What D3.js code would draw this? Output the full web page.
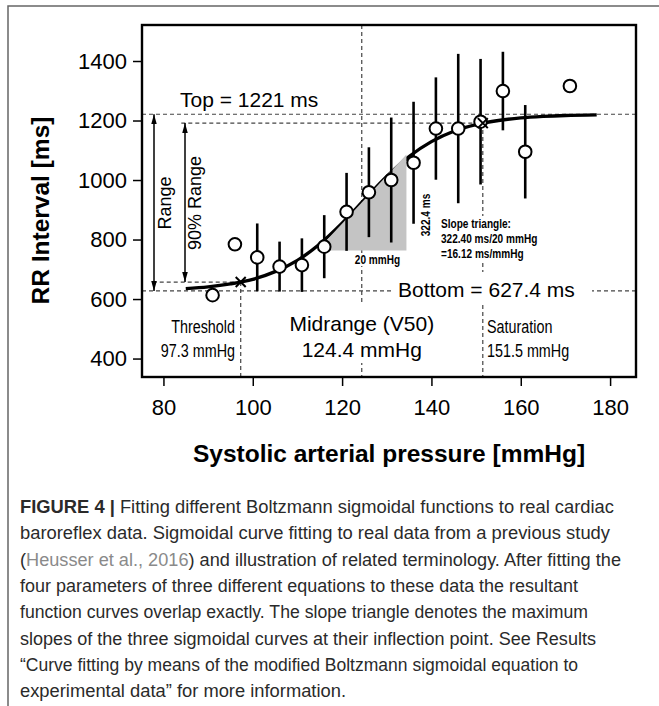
<!DOCTYPE html>
<html>
<head>
<meta charset="utf-8">
<script src="https://cdn.jsdelivr.net/npm/d3@7"></script>
<style>
  body { margin: 0; background: #fff; }
  svg { display: block; }
</style>
</head>
<body>
<svg id="chart"></svg>
<script>
// Baroreflex sigmoid figure

// Binned data: systolic pressure (mmHg), mean RR interval and SD (ms)
const pressure = [91, 96, 101, 106, 111, 116, 121, 126, 131, 136, 141, 146, 151, 156, 161, 171];
const rrMean = [613, 784, 740, 709, 714, 776, 893, 959, 1000, 1058, 1173, 1173, 1196, 1299, 1095, 1316];
const rrSD = [null, null, 114, 84, 90, 106, 131, 151, 210, 205, 172, 251, 211, 132, 157, null];

// Fitted sigmoid
const fitX = [85, 90, 95, 100, 105, 110, 115, 120, 125, 130, 135, 140, 145, 150, 155, 160, 165, 170, 177];
const fitY = [635, 641, 651, 666, 692, 730, 785, 855, 934, 1012, 1079, 1129, 1164, 1186, 1200, 1209, 1214, 1217, 1219];

// Fit parameters shown in the figure
const topRR = 1221, bottomRR = 627.4;
const upper90 = 1191.3, lower90 = 657.1;
const threshold = 97.3, v50 = 124.4, saturation = 151.5;

// Slope triangle corners
const triX = [114.4, 134.4, 134.4];
const triY = [763, 763, 1085.4];

const xTicks = [80, 100, 120, 140, 160, 180];
const yTicks = [400, 600, 800, 1000, 1200, 1400];

const captionLines = [
  [["FIGURE 4 |", "b"], [" Fitting different Boltzmann sigmoidal functions to real cardiac", ""]],
  [["baroreflex data. Sigmoidal curve fitting to real data from a previous study", ""]],
  [["(", ""], ["Heusser et al., 2016", "link"], [") and illustration of related terminology. After fitting the", ""]],
  [["four parameters of three different equations to these data the resultant", ""]],
  [["function curves overlap exactly. The slope triangle denotes the maximum", ""]],
  [["slopes of the three sigmoidal curves at their inflection point. See Results", ""]],
  [["\u201cCurve fitting by means of the modified Boltzmann sigmoidal equation to", ""]],
  [["experimental data\u201d for more information.", ""]]
];
const captionWidths = [594, 590, 601, 558, 568, 576, 558, 326];

const sans = '"Liberation Sans", Arial, Helvetica, sans-serif';

const width = 659, height = 706;
const box = {left: 142, right: 636, top: 25, bottom: 377};

const svg = d3.select('#chart')
  .attr("width", width)
  .attr("height", height);

const x = d3.scaleLinear().domain([75.2, 185.8]).range([box.left, box.right]);
const y = d3.scaleLinear().domain([338, 1521]).range([box.bottom, box.top]);

// Outer figure frame (top and left edges only)
svg.append("path")
  .attr("d", `M8,${height} V6 H${width}`)
  .attr("fill", "none")
  .attr("stroke", "#666")
  .attr("stroke-width", 1.5);

// Arrow heads
const defs = svg.append("defs");
defs.append("marker")
  .attr("id", "arrow")
  .attr("viewBox", "0 0 10 10")
  .attr("refX", 10).attr("refY", 5)
  .attr("markerWidth", 10).attr("markerHeight", 10)
  .attr("markerUnits", "userSpaceOnUse")
  .attr("orient", "auto-start-reverse")
  .append("path")
  .attr("d", "M0,2.2 L10,5 L0,7.8 Z")
  .attr("fill", "#000");

function dashed(x1, y1, x2, y2) {
  svg.append("line")
    .attr("x1", x1).attr("y1", y1).attr("x2", x2).attr("y2", y2)
    .attr("stroke", "#444")
    .attr("stroke-width", 1.2)
    .attr("stroke-dasharray", "4,3");
}

// Reference lines
dashed(box.left, y(topRR), box.right, y(topRR));
dashed(box.left, y(bottomRR), box.right, y(bottomRR));
dashed(x(84), y(upper90), x(saturation), y(upper90));
dashed(x(77.6), y(lower90), x(threshold), y(lower90));
dashed(x(v50), box.top, x(v50), box.bottom);
dashed(x(threshold), y(lower90), x(threshold), box.bottom);
dashed(x(saturation), y(upper90), x(saturation), box.bottom);

// White boxes behind labels that sit on the lines
const whiteBoxes = [
  [394, 272, 198, 31],
  [283, 303, 158, 60],
  [354, 253, 47, 13],
  [438, 216, 102, 47]
];
svg.selectAll("rect.bg")
  .data(whiteBoxes)
  .join("rect")
  .attr("class", "bg")
  .attr("x", d => d[0]).attr("y", d => d[1])
  .attr("width", d => d[2]).attr("height", d => d[3])
  .attr("fill", "#fff");

// Fitted curve
const line = d3.line()
  .x((d, i) => x(fitX[i]))
  .y(d => y(d))
  .curve(d3.curveCatmullRom);
svg.append("path")
  .attr("d", line(fitY))
  .attr("fill", "none")
  .attr("stroke", "#000")
  .attr("stroke-width", 3.4);

// Slope triangle
svg.append("polygon")
  .attr("points", triX.map((d, i) => `${x(d)},${y(triY[i])}`).join(" "))
  .attr("fill", "#c4c4c4");

// Error bars
const points = pressure.map((p, i) => ({p: p, m: rrMean[i], sd: rrSD[i]}));
svg.selectAll("line.err")
  .data(points.filter(d => d.sd !== null))
  .join("line")
  .attr("class", "err")
  .attr("x1", d => x(d.p)).attr("x2", d => x(d.p))
  .attr("y1", d => y(d.m - d.sd)).attr("y2", d => y(d.m + d.sd))
  .attr("stroke", "#000")
  .attr("stroke-width", 2.6);

// Means
svg.selectAll("circle.pt")
  .data(points)
  .join("circle")
  .attr("class", "pt")
  .attr("cx", d => x(d.p)).attr("cy", d => y(d.m))
  .attr("r", 6.3)
  .attr("fill", "#fff")
  .attr("stroke", "#000")
  .attr("stroke-width", 2);

// Threshold and saturation crosses
const crosses = [[threshold, lower90], [saturation, upper90]];
svg.selectAll("path.cross")
  .data(crosses)
  .join("path")
  .attr("class", "cross")
  .attr("d", d => {
    const cx = x(d[0]), cy = y(d[1]), s = 5;
    return `M${cx - s},${cy - s}L${cx + s},${cy + s}M${cx - s},${cy + s}L${cx + s},${cy - s}`;
  })
  .attr("stroke", "#000")
  .attr("stroke-width", 2);

// Range arrows
svg.append("line")
  .attr("x1", 154).attr("x2", 154)
  .attr("y1", y(topRR)).attr("y2", y(bottomRR))
  .attr("stroke", "#000").attr("stroke-width", 1.5)
  .attr("marker-start", "url(#arrow)").attr("marker-end", "url(#arrow)");
svg.append("line")
  .attr("x1", 185).attr("x2", 185)
  .attr("y1", y(upper90)).attr("y2", y(lower90))
  .attr("stroke", "#000").attr("stroke-width", 1.5)
  .attr("marker-start", "url(#arrow)").attr("marker-end", "url(#arrow)");

// Text helper; "squeeze" narrows the glyphs like a condensed face
function label(txt, px, py, opts) {
  let tf = `translate(${px},${py})`;
  if (opts.rotate) tf += " rotate(-90)";
  if (opts.squeeze) tf += ` scale(${opts.squeeze},1)`;
  return svg.append("text")
    .attr("transform", tf)
    .attr("font-family", sans)
    .attr("font-size", opts.size)
    .attr("font-weight", opts.weight || "normal")
    .attr("text-anchor", opts.anchor || "start")
    .attr("fill", "#000")
    .text(txt);
}

const nar = 0.82;
label("Top = 1221 ms", 180, 107, {size: 21});
label("Bottom = 627.4 ms", 398, 296.5, {size: 21});
label("Midrange (V50)", x(v50), 331, {size: 21, anchor: "middle"});
label("124.4 mmHg", x(v50), 356.5, {size: 21, anchor: "middle"});
label("Threshold", 235, 333, {size: 17.5, squeeze: nar, anchor: "end"});
label("97.3 mmHg", 235, 356.5, {size: 17.5, squeeze: nar, anchor: "end"});
label("Saturation", 487, 333, {size: 17.5, squeeze: nar});
label("151.5 mmHg", 487, 356.5, {size: 17.5, squeeze: nar});
label("Range", 171, 203, {size: 18, anchor: "middle", rotate: true});
label("90% Range", 201, 203, {size: 18, anchor: "middle", rotate: true});
label("Slope triangle:", 441, 228, {size: 12.3, squeeze: nar, weight: "bold"});
label("322.40 ms/20 mmHg", 441, 243, {size: 12.3, squeeze: nar, weight: "bold"});
label("=16.12 ms/mmHg", 441, 258, {size: 12.3, squeeze: nar, weight: "bold"});
label("20 mmHg", 377.5, 264, {size: 12.3, squeeze: nar, weight: "bold", anchor: "middle"});
label("322.4 ms", 429.5, 215, {size: 12.3, squeeze: nar, weight: "bold", anchor: "middle", rotate: true});

// Plot frame
svg.append("rect")
  .attr("x", box.left).attr("y", box.top)
  .attr("width", box.right - box.left).attr("height", box.bottom - box.top)
  .attr("fill", "none")
  .attr("stroke", "#000")
  .attr("stroke-width", 2.4);

// Axes
const yAxis = svg.append("g")
  .attr("transform", `translate(${box.left},0)`)
  .call(d3.axisLeft(y).tickValues(yTicks).tickFormat(d3.format("d")).tickSize(9).tickPadding(6));
const xAxis = svg.append("g")
  .attr("transform", `translate(0,${box.bottom})`)
  .call(d3.axisBottom(x).tickValues(xTicks).tickFormat(d3.format("d")).tickSize(9).tickPadding(13));
[xAxis, yAxis].forEach(g => {
  g.select(".domain").remove();
  g.selectAll("line").attr("stroke", "#000").attr("stroke-width", 1.5);
  g.selectAll("text")
    .attr("fill", "#000")
    .style("font-family", sans)
    .style("font-size", "22px");
});

// Axis titles
label("RR Interval [ms]", 49, 210.5, {size: 24.5, weight: "bold", anchor: "middle", rotate: true});
label("Systolic arterial pressure [mmHg]", 389, 462, {size: 24.5, weight: "bold", anchor: "middle"});

// Caption
captionLines.forEach((parts, i) => {
  const t = svg.append("text")
    .attr("x", 20)
    .attr("y", 513 + i * 26.3)
    .attr("font-family", sans)
    .attr("font-size", 17.5)
    .attr("fill", "#2a2a2a")
    .attr("textLength", captionWidths[i])
    .attr("lengthAdjust", "spacingAndGlyphs");
  parts.forEach(p => {
    t.append("tspan")
      .attr("font-weight", p[1] === "b" ? "bold" : "normal")
      .attr("fill", p[1] === "link" ? "#8a8a8a" : "#2a2a2a")
      .text(p[0]);
  });
});
</script>
</body>
</html>
